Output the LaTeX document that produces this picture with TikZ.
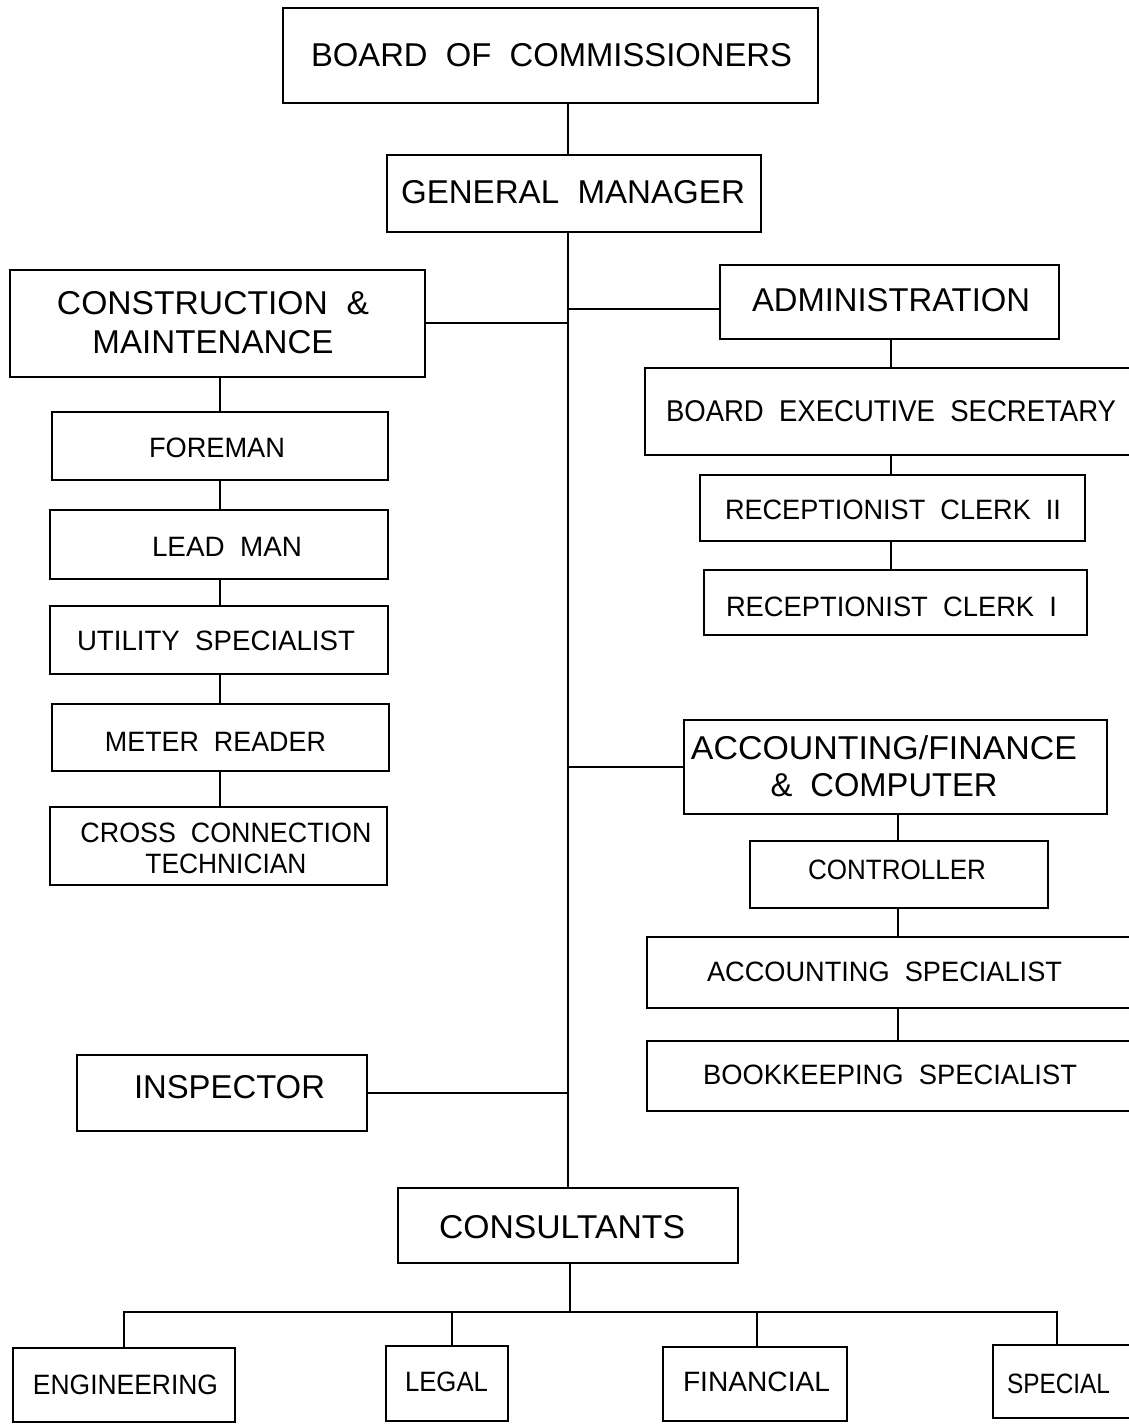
\documentclass[tikz,border=0pt]{standalone}
\usepackage{fontspec}
\setmainfont[WordSpace=2]{Liberation Sans}
\usepackage{graphicx}
\newcommand\tx[2]{\resizebox{#1pt}{\height}{#2}}
\tikzset{
  box/.style={draw, line width=2pt, inner sep=0pt, rectangle},
  conn/.style={line width=2pt},
  every label/.style={inner sep=0pt, align=center},
  big/.style={font=\fontsize{33}{39}\selectfont},
  mid/.style={font=\fontsize{30}{34}\selectfont},
  small/.style={font=\fontsize{28}{31}\selectfont},
}
\begin{document}
\begin{tikzpicture}[x=1pt, y=-1pt]
\useasboundingbox (0,0) rectangle (1129,1424);
\clip (0,0) rectangle (1129,1424);

% top
\node[box, minimum width=535pt, minimum height=95pt,
  label={[big, xshift=1pt, yshift=0.5pt]center:\tx{481}{BOARD OF COMMISSIONERS}}] (boc) at (550.5,55.5) {};
\node[box, minimum width=374pt, minimum height=77pt,
  label={[big, xshift=-1pt, yshift=1.5pt]center:\tx{344}{GENERAL MANAGER}}] (gm) at (574,193.5) {};

% left column
\node[box, minimum width=415pt, minimum height=107pt,
  label={[big, xshift=-4.5pt, yshift=0.5pt]center:{\tx{312}{CONSTRUCTION \&}\\\tx{241}{MAINTENANCE}}}] (cm) at (217.5,323) {};
\node[box, minimum width=336pt, minimum height=68pt,
  label={[small, xshift=-3pt, yshift=-2pt]center:\tx{136}{FOREMAN}}] (fore) at (220,446) {};
\node[box, minimum width=338pt, minimum height=69pt,
  label={[small, xshift=8pt, yshift=-2pt]center:\tx{150}{LEAD MAN}}] (lead) at (219,544.5) {};
\node[box, minimum width=338pt, minimum height=68pt,
  label={[small, xshift=-3pt, yshift=-1pt]center:\tx{278}{UTILITY SPECIALIST}}] (util) at (219,640) {};
\node[box, minimum width=337pt, minimum height=67pt,
  label={[small, xshift=-5pt, yshift=-4pt]center:\tx{221}{METER READER}}] (meter) at (220.5,737.5) {};
\node[box, minimum width=337pt, minimum height=78pt,
  label={[small, xshift=7.5pt, yshift=-2.5pt]center:{\tx{291}{CROSS CONNECTION}\\\tx{161}{TECHNICIAN}}}] (cross) at (218.5,846) {};
\node[box, minimum width=290pt, minimum height=76pt,
  label={[big, xshift=7.5pt, yshift=6pt]center:\tx{191}{INSPECTOR}}] (insp) at (222,1093) {};

% right column
\node[box, minimum width=339pt, minimum height=74pt,
  label={[big, xshift=1.5pt, yshift=2pt]center:\tx{278}{ADMINISTRATION}}] (adm) at (889.5,302) {};
\node[box, minimum width=495pt, minimum height=87pt,
  label={[mid, xshift=-1.5pt, yshift=0.5pt]center:\tx{450}{BOARD EXECUTIVE SECRETARY}}] (bes) at (892.5,411.5) {};
\node[box, minimum width=385pt, minimum height=66pt,
  label={[small, xshift=0.5pt, yshift=-1.5pt]center:\tx{336}{RECEPTIONIST CLERK II}}] (rc2) at (892.5,508) {};
\node[box, minimum width=383pt, minimum height=65pt,
  label={[small, xshift=-4pt, yshift=-4.5pt]center:\tx{331}{RECEPTIONIST CLERK I}}] (rc1) at (895.5,602.5) {};
\node[box, minimum width=423pt, minimum height=94pt,
  label={[big, font=\fontsize{33}{37}\selectfont, xshift=-11.5pt, yshift=0.5pt]center:{\tx{386}{ACCOUNTING/FINANCE}\\\tx{227}{\& COMPUTER}}}] (afc) at (895.5,767) {};
\node[box, minimum width=298pt, minimum height=67pt,
  label={[small, xshift=-2pt, yshift=4.5pt]center:\tx{178}{CONTROLLER}}] (ctl) at (899,874.5) {};
\node[box, minimum width=493pt, minimum height=71pt,
  label={[small, xshift=-9pt, yshift=0.5pt]center:\tx{355}{ACCOUNTING SPECIALIST}}] (acs) at (893.5,972.5) {};
\node[box, minimum width=493pt, minimum height=70pt,
  label={[small, xshift=-3.5pt, yshift=1pt]center:\tx{374}{BOOKKEEPING SPECIALIST}}] (bks) at (893.5,1076) {};

% consultants
\node[box, minimum width=340pt, minimum height=75pt,
  label={[big, xshift=-6pt, yshift=-2pt]center:\tx{246}{CONSULTANTS}}] (cons) at (568,1225.5) {};
\node[box, minimum width=222pt, minimum height=74pt,
  label={[small, xshift=1.5pt]center:\tx{185}{ENGINEERING}}] (eng) at (124,1385) {};
\node[box, minimum width=122pt, minimum height=75pt,
  label={[small, xshift=-0.5pt, yshift=2pt]center:\tx{83}{LEGAL}}] (legal) at (447,1383.5) {};
\node[box, minimum width=184pt, minimum height=74pt,
  label={[small, xshift=1.5pt, yshift=2pt]center:\tx{147}{FINANCIAL}}] (fin) at (755,1384) {};
\node[box, minimum width=147pt, minimum height=73pt,
  label={[small, xshift=-8pt, yshift=-2.5pt]center:\tx{103}{SPECIAL}}] (spec) at (1066.5,1381.5) {};

% helper coordinates
\coordinate (trunk) at (568,0);
\coordinate (xl) at (220,0);
\coordinate (xa) at (891,0);
\coordinate (xc) at (898,0);
\coordinate (bus) at (570,1312);
\coordinate (dl) at (452,0);
\coordinate (df) at (757,0);
\coordinate (ds) at (1057,0);

% connectors
\draw[conn] (boc.south -| trunk) -- (gm.north -| trunk);
\draw[conn] (gm.south -| trunk) -- (cons.north -| trunk);
\draw[conn] (cm.east) -- (cm.east -| trunk);
\draw[conn] ([yshift=-7pt]adm.west) -- ([yshift=-7pt]adm.west -| trunk);
\draw[conn] (afc.west) -- (afc.west -| trunk);
\draw[conn] (insp.east) -- (insp.east -| trunk);

\draw[conn] (cm.south -| xl) -- (fore.north -| xl);
\draw[conn] (fore.south -| xl) -- (lead.north -| xl);
\draw[conn] (lead.south -| xl) -- (util.north -| xl);
\draw[conn] (util.south -| xl) -- (meter.north -| xl);
\draw[conn] (meter.south -| xl) -- (cross.north -| xl);

\draw[conn] (adm.south -| xa) -- (bes.north -| xa);
\draw[conn] (bes.south -| xa) -- (rc2.north -| xa);
\draw[conn] (rc2.south -| xa) -- (rc1.north -| xa);

\draw[conn] (afc.south -| xc) -- (ctl.north -| xc);
\draw[conn] (ctl.south -| xc) -- (acs.north -| xc);
\draw[conn] (acs.south -| xc) -- (bks.north -| xc);

\draw[conn] (cons.south -| bus) -- (bus);
\draw[conn] (eng.north) -- (eng.north |- bus) -- (ds |- bus) -- (ds |- spec.north);
\draw[conn] (dl |- bus) -- (dl |- legal.north);
\draw[conn] (df |- bus) -- (df |- fin.north);
\end{tikzpicture}
\end{document}
